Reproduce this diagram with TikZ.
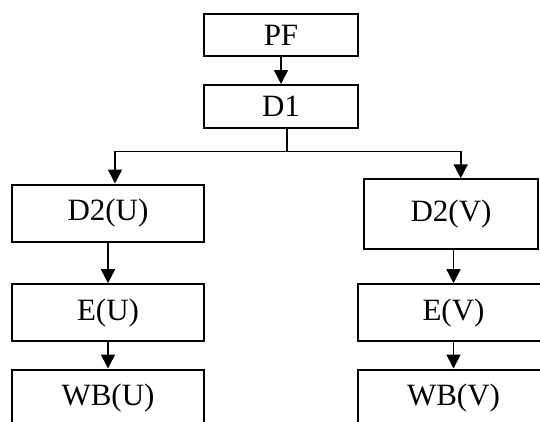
\documentclass[tikz,border=0pt]{standalone}
\usepackage{fontspec}
\setmainfont{Liberation Serif}
\usetikzlibrary{arrows.meta}
\begin{document}
\begin{tikzpicture}[x=1pt,y=-1pt,
  box/.style={draw, line width=2pt, inner sep=0pt, minimum width=#1,
    font=\fontsize{31}{36}\selectfont},
  link/.style={line width=1.6pt},
  arr/.style={link, -{Triangle[length=14pt,width=14pt]}}]
  \useasboundingbox (0,0) rectangle (540,421);
  \clip (0,0) rectangle (540,421);

  % top chain
  \node[box=154pt, minimum height=42pt] (PF) at (281,35) {PF};
  \node[box=154pt, minimum height=43pt] (D1) at (281,106.5) {D1};

  % left branch
  \node[box=192pt, minimum height=57pt] (D2U) at (108,213) {D2(U)};
  \node[box=192pt, minimum height=57pt] (EU)  at (108,312.7) {E(U)};
  \node[box=192pt, minimum height=57pt] (WBU) at (108,398) {WB(U)};

  % right branch
  \node[box=173.4pt, minimum height=69.4pt] (D2V) at (451,214) {D2(V)};
  \node[box=192pt, minimum height=57pt] (EV)  at (453.5,312.7) {E(V)};
  \node[box=192pt, minimum height=57pt] (WBV) at (453.5,398) {WB(V)};

  % split bar below D1
  \coordinate (j)  at (287,151.3);
  \coordinate (bl) at (115,151.3);
  \coordinate (br) at (460.7,151.3);

  \draw[arr] (PF.south) -- (D1.north);
  \draw[link] (D1.south -| j) -- (j);
  \draw[arr] (j) -| (bl |- D2U.north);
  \draw[arr] (j) -| (br |- D2V.north);

  \draw[arr] (D2U.south) -- (EU.north);
  \draw[arr] (EU.south) -- (WBU.north);
  \draw[arr] (D2V.south -| EV.north) -- (EV.north);
  \draw[arr] (EV.south) -- (WBV.north);
\end{tikzpicture}
\end{document}
